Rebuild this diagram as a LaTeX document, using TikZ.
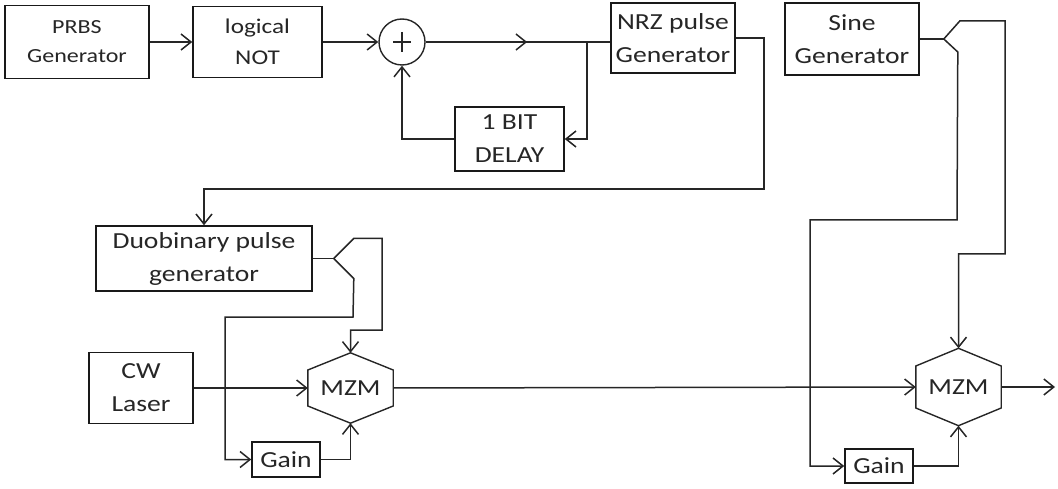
\documentclass[tikz,border=0pt]{standalone}
\usepackage{fontspec}
\setmainfont[FakeStretch=1.2]{Carlito}
\usetikzlibrary{arrows.meta,calc,decorations.markings}
\begin{document}
\begin{tikzpicture}[x=1pt,y=-1pt,
  blk/.style={draw=black!90, line width=1.6pt, inner sep=0pt, align=center, text=black!85, font=\fontsize{23}{33}\selectfont},
  smallblk/.style={blk, font=\fontsize{20}{29}\selectfont},
  hexnode/.style={inner sep=0pt, text=black!85, font=\fontsize{23}{33}\selectfont},
  hexline/.style={draw=black!85, line width=1.4pt},
  conn/.style={draw=black!85, line width=1.5pt},
  arr/.style={conn, -{Straight Barb[length=10pt,width=16pt]}},
  midarr/.style={conn, postaction={decorate}, decoration={markings, mark=at position 0.55 with {\arrow{Straight Barb[length=10pt,width=16pt]}}}}
]
\useasboundingbox (0,0) rectangle (1058,489);

% blocks
\node[smallblk, minimum width=144pt, minimum height=73pt] (prbs) at (77,42) {PRBS\\Generator};
\node[smallblk, minimum width=129pt, minimum height=71pt, font=\fontsize{21}{31}\selectfont] (lnot) at (257.5,42) {logical\\NOT};
\node[draw=black!85, circle, minimum size=46pt, inner sep=0pt, line width=1.4pt] (sum) at (402,42) {};
\draw[conn] ($(sum.center)+(-9,0)$) -- ($(sum.center)+(9,0)$);
\draw[conn] ($(sum.center)+(0,-10)$) -- ($(sum.center)+(0,10)$);
\node[blk, minimum width=124pt, minimum height=70pt] (nrz) at (673,38) {NRZ pulse\\Generator};
\node[blk, minimum width=134pt, minimum height=72pt] (sine) at (852,39) {Sine\\Generator};
\node[blk, minimum width=109pt, minimum height=64pt] (delay) at (509.5,139) {1 BIT\\DELAY};
\node[blk, minimum width=216pt, minimum height=65pt] (duo) at (204,258.5) {Duobinary pulse\\generator};
\node[blk, minimum width=104pt, minimum height=71pt] (cw) at (141,388) {CW\\Laser};
\node[blk, minimum width=68pt, minimum height=35pt] (gain1) at (286,459.5) {Gain};
\node[blk, minimum width=68pt, minimum height=34pt] (gain2) at (879,466) {Gain};

% MZM hexagons
\node[hexnode, minimum width=85pt, minimum height=70pt] (m1) at (350.5,388) {MZM};
\draw[hexline] (m1.north) -- ($(m1.east)+(0,-18)$) -- ($(m1.east)+(0,18)$) -- (m1.south)
  -- ($(m1.west)+(0,18)$) -- ($(m1.west)+(0,-18)$) -- cycle;
\node[hexnode, minimum width=85pt, minimum height=77pt] (m2) at (958.5,387) {MZM};
\draw[hexline] (m2.north) -- ($(m2.east)+(0,-21)$) -- ($(m2.east)+(0,21)$) -- (m2.south)
  -- ($(m2.west)+(0,21)$) -- ($(m2.west)+(0,-21)$) -- cycle;

% connectors top row
\draw[arr] (prbs.east) -- (lnot.west);
\draw[arr] (lnot.east) -- (sum.west);
\draw[midarr] (sum.east) -- (sum.east -| nrz.west);
\coordinate (br) at (587,42);
\draw[arr] (br) |- (delay.east);
\draw[arr] (delay.west) -| (sum.south);
\draw[arr] (nrz.east) -- ++(28,0) -- ++(0,151) -| (duo.north);

% sine splitter
\draw[conn] (sine.east) -- ++(24,0) coordinate (s1);
\draw[arr] (s1) -- ++(16,-18) -- (1005,21) -- (1005,254) -| (m2.north);
\draw[arr] (s1) -- ++(14,13) -- (957,220) -- (810,220) |- (gain2.west);
\draw[arr] (gain2.east) -| (m2.south);

% duobinary splitter
\draw[conn] (duo.east) -- ++(21,0) coordinate (d1);
\draw[arr] (d1) -- ++(20,-20) -- (382,238.5) -- (382,330) -| (m1.north);
\draw[arr] (d1) -- ++(20,20) -- (353,317) -- (225,317) |- (gain1.west);
\draw[arr] (gain1.east) -| (m1.south);

% optical path
\draw[arr] (cw.east) -- (m1.west);
\draw[arr] (m1.east) -- (m2.west);
\coordinate (out) at (1055,387);
\draw[arr] (m2.east) -- (out);
\end{tikzpicture}
\end{document}
